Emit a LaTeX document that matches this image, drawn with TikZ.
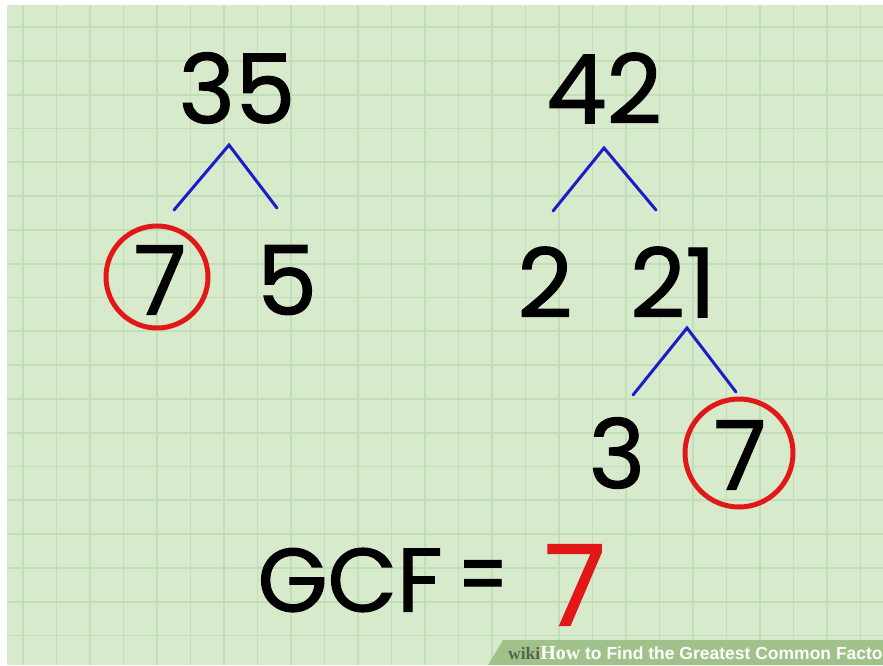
\documentclass[tikz,border=0pt]{standalone}
\usepackage{fontspec}
\setmainfont{Poppins}
\newfontfamily\handfont{Poppins}[FakeBold=1.2]
\newfontfamily\bannerfont{Liberation Sans}
\newfontfamily\wikifont{Liberation Serif}
\usetikzlibrary{positioning}

\definecolor{paper}{RGB}{215,235,204}
\definecolor{gridline}{RGB}{194,222,184}
\definecolor{branchblue}{RGB}{28,28,200}
\definecolor{markred}{RGB}{226,24,24}
\definecolor{bannergreen}{RGB}{160,194,138}
\definecolor{wikigray}{RGB}{84,100,76}

\begin{document}
\begin{tikzpicture}[
    x=1pt, y=-1pt,
    num/.style={inner sep=0pt, font=\handfont\fontsize{96}{100}\selectfont},
    bignum/.style={inner sep=0pt, text=markred, font=\handfont\fontsize{112}{116}\selectfont},
    branch/.style={draw=branchblue, line width=3pt, line cap=round},
    ring/.style={draw=markred, line width=5pt, circle, inner sep=0pt, minimum size=102pt},
    banner/.style={inner sep=0pt, anchor=west, text=white, font=\bannerfont\bfseries\fontsize{17.5}{19}\selectfont}
]

    % Paper
    \useasboundingbox (0,0) rectangle (883,665);
    \fill[white] (0,0) rectangle (883,665);
    \fill[paper] (7,5) rectangle (883,665);
    \begin{scope}
        \clip (7,5) rectangle (883,665);
        \foreach \i in {0,...,26}
            \draw[gridline, line width=1.8pt] ({23+33.5*\i},5) -- ++(0,660);
        \foreach \j in {0,...,19}
            \draw[gridline, line width=1.8pt] (7,{27+33.8*\j}) -- ++(876,0);
    \end{scope}

    % Factor tree of 35
    \node[num] (n35) at (237,88) {35};
    \node[num] (n7a) at (160,280) {7};
    \node[num] (n5) at (287,280) {5};
    \node[ring] (r7a) at (157,277) {};
    \coordinate (t35) at (229,145);
    \coordinate (l35) at (174,210);
    \coordinate (e35) at (277,208);
    \draw[branch] (l35) -- (t35) -- (e35);

    % Factor tree of 42
    \node[num] (n42) at (604,88) {42};
    \node[num] (n2) at (545,282) {2};
    \node[num] (n21) at (673,282) {21};
    \coordinate (t42) at (604,148);
    \coordinate (l42) at (553,211);
    \coordinate (e42) at (656,210);
    \draw[branch] (l42) -- (t42) -- (e42);

    % Factor tree of 21
    \node[num] (n3) at (617,453) {3};
    \node[num] (n7b) at (740,455) {7};
    \node[ring, minimum size=108pt] (r7b) at (739,453) {};
    \coordinate (t21) at (687,328);
    \coordinate (l21) at (633,395);
    \coordinate (e21) at (736,392);
    \draw[branch] (l21) -- (t21) -- (e21);

    % Result
    \node[num, font=\handfont\fontsize{90}{94}\selectfont] (gcf) at (350,580) {GCF};
    \node[num, font=\handfont\fontsize{88}{92}\selectfont] (eq) at (483,583) {\scalebox{0.8}[1]{=}};
    \node[bignum] (res) at (575,585) {7};

    % Watermark
    \begin{scope}
        \clip (0,0) rectangle (883,665);
        \fill[bannergreen] (488,665) -- (503,640) -- (883,640) -- (883,665) -- cycle;
        \node[banner] (wm) at (508,653)
            {{\wikifont\color{wikigray}wiki}{\wikifont\fontsize{20}{22}\selectfont How} to Find the Greatest Common Factor};
    \end{scope}

\end{tikzpicture}
\end{document}
